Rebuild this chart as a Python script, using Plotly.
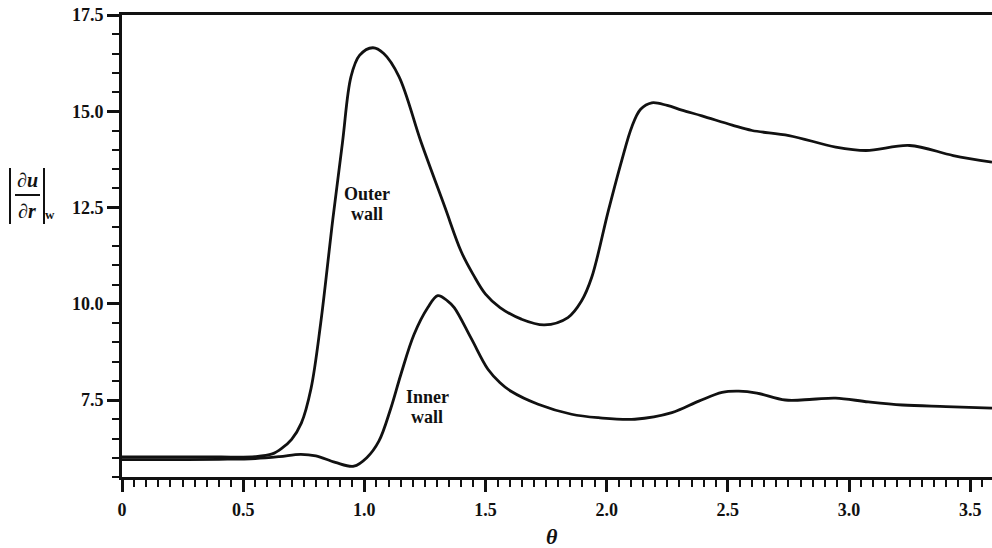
import plotly.graph_objects as go

# Wall shear magnitude |du/dr|_w against angular position theta
theta_outer = [0.0, 0.2, 0.4, 0.55, 0.62, 0.66, 0.70, 0.74, 0.78, 0.82, 0.87, 0.91,
               0.945, 0.98, 1.035, 1.08, 1.143, 1.234, 1.33, 1.40, 1.45, 1.50, 1.56,
               1.648, 1.743, 1.84, 1.896, 1.938, 2.007, 2.062, 2.104, 2.14, 2.186,
               2.25, 2.31, 2.393, 2.518, 2.60, 2.752, 2.945, 3.07, 3.25, 3.43, 3.59]
shear_outer = [6.02, 6.02, 6.02, 6.03, 6.1, 6.25, 6.48, 6.9, 7.8, 9.5, 12.2, 14.2,
               15.9, 16.45, 16.65, 16.5, 15.9, 14.2, 12.55, 11.35, 10.75, 10.25, 9.9,
               9.6, 9.45, 9.64, 10.07, 10.68, 12.42, 13.72, 14.6, 15.05, 15.22,
               15.15, 15.03, 14.88, 14.64, 14.5, 14.37, 14.07, 13.98, 14.11, 13.85, 13.68]

theta_inner = [0.0, 0.2, 0.4, 0.55, 0.65, 0.737, 0.80, 0.88, 0.957, 1.01, 1.06,
               1.11, 1.151, 1.205, 1.262, 1.303, 1.344, 1.371, 1.441, 1.51, 1.56,
               1.607, 1.717, 1.855, 1.966, 2.116, 2.269, 2.38, 2.476, 2.545, 2.62,
               2.737, 2.85, 2.945, 3.08, 3.22, 3.40, 3.59]
shear_inner = [5.95, 5.95, 5.96, 5.98, 6.03, 6.09, 6.05, 5.88, 5.78, 6.0, 6.43,
               7.3, 8.17, 9.2, 9.9, 10.21, 10.07, 9.9, 9.1, 8.3, 7.95,
               7.72, 7.39, 7.13, 7.04, 7.0, 7.17, 7.47, 7.7, 7.73, 7.68,
               7.5, 7.52, 7.55, 7.45, 7.37, 7.33, 7.29]

x_tickvals = [0, 0.5, 1.0, 1.5, 2.0, 2.5, 3.0, 3.5]
x_ticktext = ["0", "0.5", "1.0", "1.5", "2.0", "2.5", "3.0", "3.5"]
y_tickvals = [7.5, 10.0, 12.5, 15.0, 17.5]
y_ticktext = ["7.5", "10.0", "12.5", "15.0", "17.5"]

W, H = 992, 548
ML, MR, MT, MB = 122, 0, 15, 71
SERIF = "Liberation Serif"
INK = "#111111"


def paper_x(px):
    return (px - ML) / (W - ML - MR)


def paper_y(py):
    return (H - MB - py) / (H - MT - MB)


fig = go.Figure()
for xs, ys in ((theta_outer, shear_outer), (theta_inner, shear_inner)):
    fig.add_trace(go.Scatter(x=xs, y=ys, mode="lines",
                             line=dict(color=INK, width=2.8, shape="spline", smoothing=1.0),
                             showlegend=False, hoverinfo="skip"))

tickfont = dict(family=SERIF, size=18, color=INK, weight="bold")

fig.update_xaxes(range=[0, 3.59], showline=True, linewidth=3, linecolor=INK, mirror=True,
                 ticks="outside", ticklen=12, tickwidth=2.5, tickcolor=INK,
                 tickvals=x_tickvals, ticktext=x_ticktext, tickfont=tickfont,
                 ticklabelstandoff=2,
                 minor=dict(dtick=0.05, tick0=0, ticks="outside", ticklen=7,
                            tickwidth=2, tickcolor=INK),
                 showgrid=False, zeroline=False)
fig.update_yaxes(range=[5.5, 17.5], showline=True, linewidth=3, linecolor=INK, mirror=False,
                 ticks="outside", ticklen=12, tickwidth=2.5, tickcolor=INK,
                 tickvals=y_tickvals, ticktext=y_ticktext, tickfont=tickfont,
                 ticklabelstandoff=0,
                 minor=dict(dtick=0.5, tick0=5.5, ticks="outside", ticklen=7,
                            tickwidth=2, tickcolor=INK),
                 showgrid=False, zeroline=False)

label_font = dict(family=SERIF, size=18, color=INK, weight="bold")


def note(x, y, text, font, ref="data"):
    r = ("x", "y") if ref == "data" else ("paper", "paper")
    return dict(x=x, y=y, text=text, xref=r[0], yref=r[1], showarrow=False,
                xanchor="center", yanchor="middle", font=font)


annotations = [
    note(1.01, 12.86, "Outer", label_font),
    note(1.01, 12.32, "wall", label_font),
    note(1.259, 7.58, "Inner", label_font),
    note(1.259, 7.06, "wall", label_font),
    # axis title theta
    note(paper_x(552), paper_y(536), "<i>θ</i>",
         dict(family=SERIF, size=22, color=INK, weight="bold"), ref="paper"),
    # y title |du/dr|_w assembled from pieces
    note(paper_x(27), paper_y(180), "∂<i>u</i>",
         dict(family=SERIF, size=20, color=INK, weight="bold"), ref="paper"),
    note(paper_x(27), paper_y(211), "∂<i>r</i>",
         dict(family=SERIF, size=20, color=INK, weight="bold"), ref="paper"),
    note(paper_x(50), paper_y(214), "w",
         dict(family=SERIF, size=13, color=INK, weight="bold"), ref="paper"),
]
fig.update_layout(annotations=annotations)

shapes = [
    dict(type="line", xref="paper", yref="paper", x0=paper_x(15), x1=paper_x(40),
         y0=paper_y(195), y1=paper_y(195), line=dict(color=INK, width=2)),
    dict(type="line", xref="paper", yref="paper", x0=paper_x(10), x1=paper_x(10),
         y0=paper_y(168), y1=paper_y(224), line=dict(color=INK, width=2)),
    dict(type="line", xref="paper", yref="paper", x0=paper_x(44), x1=paper_x(44),
         y0=paper_y(168), y1=paper_y(224), line=dict(color=INK, width=2)),
]
fig.update_layout(shapes=shapes)

fig.update_layout(width=W, height=H, margin=dict(l=ML, r=MR, t=MT, b=MB),
                  paper_bgcolor="white", plot_bgcolor="white")

fig.write_html("out.html")
